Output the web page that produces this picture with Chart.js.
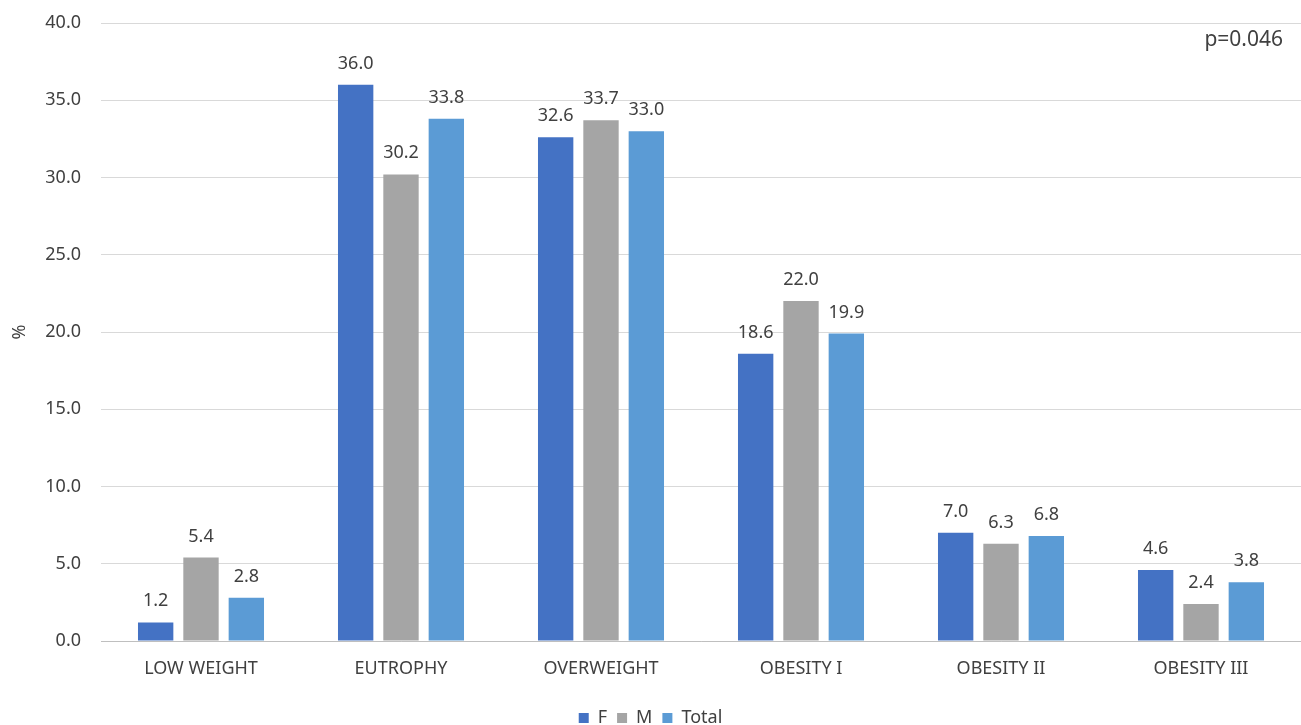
<!DOCTYPE html>
<html>
<head>
<meta charset="utf-8">
<script src="https://cdn.jsdelivr.net/npm/chart.js@4"></script>
<style>
  html, body { margin: 0; padding: 0; background: #fff; }
  #wrap { width: 1301px; height: 725px; }
</style>
</head>
<body>
<div id="wrap"><canvas id="bmiChart" width="1301" height="725"></canvas></div>
<script>
const categories = ['LOW WEIGHT', 'EUTROPHY', 'OVERWEIGHT', 'OBESITY I', 'OBESITY II', 'OBESITY III']
const femaleValues = [1.2, 36.0, 32.6, 18.6, 7.0, 4.6]
const maleValues = [5.4, 30.2, 33.7, 22.0, 6.3, 2.4]
const totalValues = [2.8, 33.8, 33.0, 19.9, 6.8, 3.8]
const yTicks = [0, 5, 10, 15, 20, 25, 30, 35, 40]

const fontFamily = '"Noto Sans", "Open Sans", sans-serif'
const textColor = '#404040'

// value labels above each bar
const barLabels = {
    id: 'barLabels',
    afterDatasetsDraw(chart) {
        const ctx = chart.ctx
        ctx.save()
        ctx.font = '18px ' + fontFamily
        ctx.fillStyle = textColor
        ctx.textAlign = 'center'
        ctx.textBaseline = 'alphabetic'
        chart.data.datasets.forEach((ds, i) => {
            chart.getDatasetMeta(i).data.forEach((bar, j) => {
                ctx.fillText(ds.data[j].toFixed(1), bar.x, bar.y - 16)
            })
        })
        ctx.restore()
    }
}

const pValue = {
    id: 'pValue',
    afterDraw(chart) {
        const ctx = chart.ctx
        ctx.save()
        ctx.font = '21px ' + fontFamily
        ctx.fillStyle = textColor
        ctx.textAlign = 'right'
        ctx.textBaseline = 'alphabetic'
        ctx.fillText('p=0.046', 1283, 46)
        ctx.restore()
    }
}

new Chart(document.getElementById('bmiChart'), {
    type: 'bar',
    data: {
        labels: categories,
        datasets: [
            { label: 'F', data: femaleValues, backgroundColor: '#4472C4' },
            { label: 'M', data: maleValues, backgroundColor: '#A5A5A5' },
            { label: 'Total', data: totalValues, backgroundColor: '#5B9BD5' }
        ]
    },
    options: {
        responsive: false,
        animation: false,
        devicePixelRatio: 1,
        datasets: {
            bar: { barPercentage: 0.78, categoryPercentage: 0.68 }
        },
        layout: { padding: { top: 23, right: 0, left: 0, bottom: -12 } },
        scales: {
            x: {
                afterFit(axis) { axis.height = 58 },
                grid: { display: false, drawTicks: false },
                border: { color: '#bfbfbf', width: 1 },
                ticks: { color: textColor, font: { family: fontFamily, size: 18 }, padding: 17 }
            },
            y: {
                min: 0,
                max: 40,
                afterBuildTicks(axis) {
                    axis.ticks = yTicks.map(v => ({ value: v }))
                },
                afterFit(axis) {
                    axis.width = 101
                    axis.paddingTop = 0
                    axis.paddingBottom = 0
                },
                grid: { color: '#d9d9d9', drawTicks: false },
                border: { display: false },
                ticks: {
                    color: textColor,
                    font: { family: fontFamily, size: 18 },
                    padding: 20,
                    callback: v => v.toFixed(1)
                },
                title: {
                    display: true,
                    text: '%',
                    color: textColor,
                    font: { family: fontFamily, size: 18 },
                    padding: { top: 9, bottom: 0 }
                }
            }
        },
        plugins: {
            legend: {
                position: 'bottom',
                labels: {
                    color: textColor,
                    font: { family: fontFamily, size: 18 },
                    boxWidth: 10,
                    boxHeight: 10,
                    padding: 10
                }
            },
            tooltip: { enabled: false }
        }
    },
    plugins: [barLabels, pValue]
})
</script>
</body>
</html>
